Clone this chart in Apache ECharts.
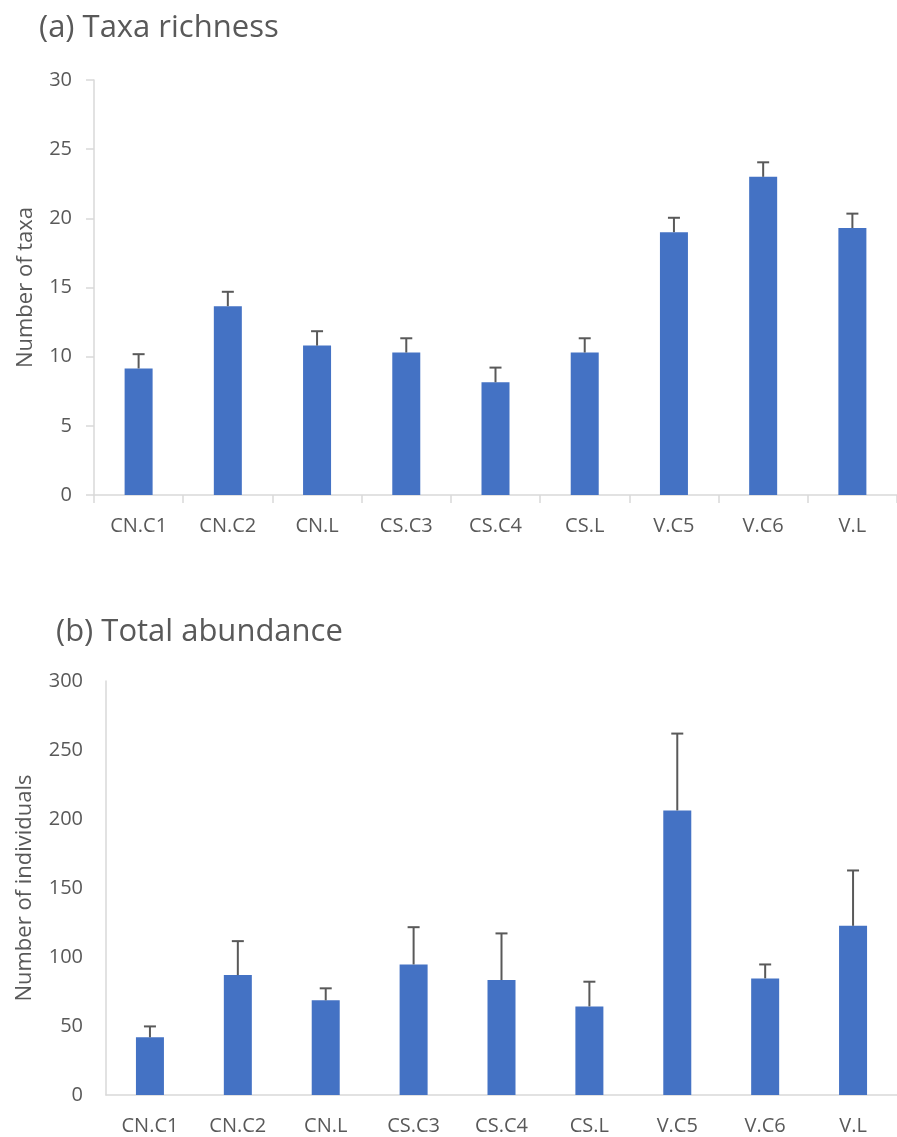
<!DOCTYPE html>
<html>
<head>
<meta charset="utf-8">
<script src="https://cdn.jsdelivr.net/npm/echarts@6/dist/echarts.min.js"></script>
<style>
  html, body { margin: 0; padding: 0; background: #ffffff; }
  #chart { width: 897px; height: 1137px; }
</style>
</head>
<body>
<div id="chart"></div>
<script>
// sites on the x axis
const categories = ['CN.C1', 'CN.C2', 'CN.L', 'CS.C3', 'CS.C4', 'CS.L', 'V.C5', 'V.C6', 'V.L']

// (a) taxa richness: mean and error (upper bar)
const taxaMean = [9.15, 13.65, 10.8, 10.3, 8.15, 10.3, 19.0, 23.0, 19.3]
const taxaErr = [1.03, 1.04, 1.04, 1.03, 1.06, 1.03, 1.04, 1.05, 1.04]

// (b) total abundance: mean and error
const abundMean = [41.8, 86.9, 68.6, 94.6, 83.3, 64.2, 206.2, 84.5, 122.6]
const abundErr = [7.9, 24.6, 8.7, 27.0, 33.8, 17.9, 55.7, 10.1, 40.1]

const textColor = '#595959'
const axisColor = '#d9d9d9'
const barColor = '#4472c4'
const fontFamily = '"Open Sans", "Noto Sans", sans-serif'

// draws the upper error bar with a small cap
function errorBar(params, api) {
  const idx = api.value(0)
  const mean = api.value(1)
  const err = api.value(2)
  const p0 = api.coord([idx, mean])
  const p1 = api.coord([idx, mean + err])
  const half = 6
  const style = { stroke: '#595959', lineWidth: 2 }
  return {
    type: 'group',
    children: [
      { type: 'line', shape: { x1: p0[0], y1: p0[1], x2: p1[0], y2: p1[1] }, style },
      { type: 'line', shape: { x1: p1[0] - half, y1: p1[1], x2: p1[0] + half, y2: p1[1] }, style },
    ],
  }
}

const chart = echarts.init(document.getElementById('chart'))

const option = {
  backgroundColor: '#ffffff',
  animation: false,
  textStyle: { fontFamily },
  title: [
    {
      text: '(a) Taxa richness',
      left: 34,
      top: 8,
      textStyle: { color: textColor, fontSize: 31, fontWeight: 'normal', fontFamily },
    },
    {
      text: '(b) Total abundance',
      left: 51,
      top: 612,
      textStyle: { color: textColor, fontSize: 31, fontWeight: 'normal', fontFamily },
    },
  ],
  grid: [
    { left: 94, top: 80, width: 810, height: 415, containLabel: false },
    { left: 106, top: 681, width: 798, height: 414, containLabel: false },
  ],
  xAxis: [
    {
      type: 'category',
      gridIndex: 0,
      data: categories,
      axisLine: { show: true, lineStyle: { color: axisColor, width: 1.5 } },
      axisTick: { show: true, length: 8, lineStyle: { color: axisColor, width: 1.5 } },
      axisLabel: { color: textColor, fontSize: 20, margin: 21, interval: 0 },
    },
    {
      type: 'category',
      gridIndex: 1,
      data: categories,
      axisLine: { show: true, lineStyle: { color: axisColor, width: 1.5 } },
      axisTick: { show: false },
      axisLabel: { color: textColor, fontSize: 20, margin: 21, interval: 0 },
    },
  ],
  yAxis: [
    {
      type: 'value',
      gridIndex: 0,
      min: 0,
      max: 30,
      interval: 5,
      name: 'Number of taxa',
      nameLocation: 'middle',
      nameGap: 57,
      nameTextStyle: { color: textColor, fontSize: 22 },
      axisLine: { show: true, lineStyle: { color: axisColor, width: 1.5 } },
      axisTick: { show: true, length: 8, lineStyle: { color: axisColor, width: 1.5 } },
      axisLabel: { color: textColor, fontSize: 20, margin: 22 },
      splitLine: { show: false },
    },
    {
      type: 'value',
      gridIndex: 1,
      min: 0,
      max: 300,
      interval: 50,
      name: 'Number of individuals',
      nameLocation: 'middle',
      nameGap: 70,
      nameTextStyle: { color: textColor, fontSize: 22 },
      axisLine: { show: true, lineStyle: { color: axisColor, width: 1.5 } },
      axisTick: { show: false },
      axisLabel: { color: textColor, fontSize: 20, margin: 23 },
      splitLine: { show: false },
    },
  ],
  series: [
    {
      name: 'Taxa richness',
      type: 'bar',
      xAxisIndex: 0,
      yAxisIndex: 0,
      data: taxaMean,
      barWidth: 28,
      itemStyle: { color: barColor },
      z: 2,
    },
    {
      name: 'Taxa richness error',
      type: 'custom',
      xAxisIndex: 0,
      yAxisIndex: 0,
      data: categories.map((c, i) => [i, taxaMean[i], taxaErr[i]]),
      renderItem: errorBar,
      z: 3,
    },
    {
      name: 'Total abundance',
      type: 'bar',
      xAxisIndex: 1,
      yAxisIndex: 1,
      data: abundMean,
      barWidth: 28,
      itemStyle: { color: barColor },
      z: 2,
    },
    {
      name: 'Total abundance error',
      type: 'custom',
      xAxisIndex: 1,
      yAxisIndex: 1,
      data: categories.map((c, i) => [i, abundMean[i], abundErr[i]]),
      renderItem: errorBar,
      z: 3,
    },
  ],
}

chart.setOption(option)
</script>
</body>
</html>
